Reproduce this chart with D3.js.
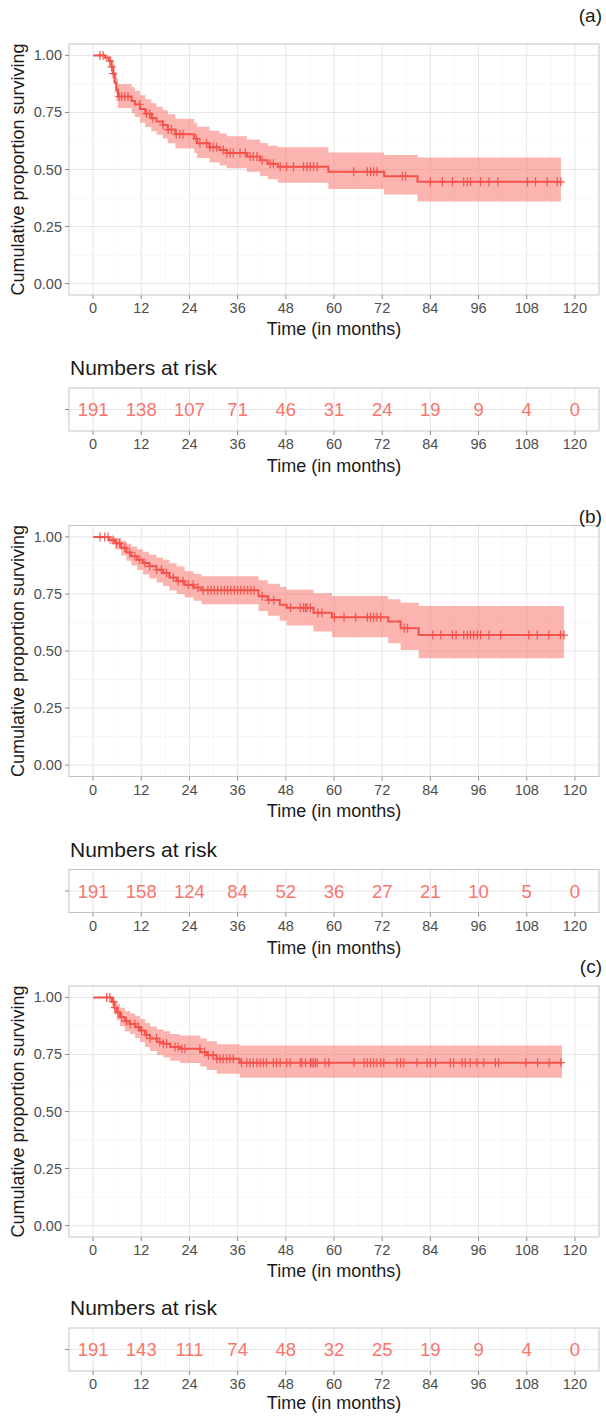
<!DOCTYPE html>
<html>
<head>
<meta charset="utf-8">
<script src="https://cdn.jsdelivr.net/npm/d3@7"></script>
<style>
  body { margin: 0; background: #fff; }
  svg { display: block; font-family: "Liberation Sans", Arial, sans-serif; }
  .grid-major { stroke: #e6e6e6; stroke-width: 1; }
  .grid-minor { stroke: #f2f2f2; stroke-width: 0.6; }
  .frame { fill: none; stroke: #c4c4c4; stroke-width: 1; }
  .tick-mark { stroke: #8a8a8a; stroke-width: 1; }
  .tick-label { fill: #4d4d4d; font-size: 14.5px; }
  .axis-title { fill: #1a1a1a; font-size: 18px; }
</style>
</head>
<body>
<svg id="chart" width="606" height="1416"></svg>
<script>
// month ticks shared by every panel and risk table
const timeTicks = [0, 12, 24, 36, 48, 60, 72, 84, 96, 108, 120];
const survTicks = [0, 0.25, 0.5, 0.75, 1];

// (a) step times, survival, lower / upper confidence limits
const timeA  = [0, 3.0, 4.0, 4.6, 5.0, 5.4, 5.8, 6.2, 9.6, 10.4, 11.7, 13.0, 14.5, 15.8, 17.4, 18.6, 20.5, 25.2, 25.9, 29.0, 31.5, 33.3, 38.3, 41.6, 43.5, 46.0, 58.6, 72.5, 80.8];
const survA  = [1, 0.99, 0.975, 0.95, 0.92, 0.88, 0.85, 0.82, 0.80, 0.785, 0.765, 0.745, 0.725, 0.71, 0.695, 0.675, 0.655, 0.635, 0.615, 0.598, 0.585, 0.572, 0.557, 0.54, 0.525, 0.512, 0.49, 0.47, 0.446];
const lowerA = [1, 0.975, 0.95, 0.92, 0.88, 0.835, 0.80, 0.77, 0.748, 0.73, 0.705, 0.686, 0.668, 0.652, 0.636, 0.615, 0.592, 0.572, 0.55, 0.532, 0.518, 0.505, 0.49, 0.472, 0.457, 0.442, 0.414, 0.39, 0.36];
const upperA = [1, 1, 0.995, 0.98, 0.96, 0.925, 0.90, 0.875, 0.86, 0.845, 0.825, 0.808, 0.79, 0.775, 0.76, 0.742, 0.722, 0.705, 0.687, 0.67, 0.658, 0.646, 0.632, 0.616, 0.604, 0.598, 0.575, 0.564, 0.553];
const endA = 116.5;
const censorA = [1.7, 2.5, 4.2, 4.6, 5.0, 6.5, 7.1, 7.9, 8.7, 11.6, 13.3, 14.1, 14.9, 17.4, 18.7, 19.5, 20.7, 21.6, 22.4, 25.7, 26.6, 28.3, 29.1, 29.9, 30.8, 32.4, 33.3, 34.1, 34.9, 36.6, 37.9, 39.1, 39.9, 40.8, 42.1, 44.1, 44.9, 46.6, 48.2, 49.9, 52.4, 53.3, 54.1, 54.9, 55.8, 64.9, 68.3, 69.1, 69.9, 70.7, 77.0, 77.8, 84.0, 87.0, 89.5, 92.3, 93.2, 94.0, 96.5, 98.6, 100.8, 108.2, 110.2, 113.1, 115.6, 116.5];
const riskA = [191, 138, 107, 71, 46, 31, 24, 19, 9, 4, 0];

// (b)
const timeB  = [0, 4.0, 5.5, 7.0, 8.3, 9.5, 11.0, 12.4, 14.0, 15.8, 17.4, 19.0, 20.8, 22.8, 25.0, 27.0, 41.2, 43.5, 46.5, 48.2, 54.9, 59.5, 73.5, 76.6, 81.1];
const survB  = [1, 0.987, 0.972, 0.952, 0.932, 0.915, 0.90, 0.886, 0.871, 0.856, 0.842, 0.822, 0.806, 0.79, 0.778, 0.766, 0.74, 0.723, 0.703, 0.69, 0.668, 0.648, 0.629, 0.60, 0.57];
const lowerB = [1, 0.968, 0.945, 0.918, 0.895, 0.875, 0.855, 0.835, 0.818, 0.80, 0.785, 0.765, 0.75, 0.735, 0.72, 0.705, 0.675, 0.655, 0.633, 0.612, 0.585, 0.56, 0.534, 0.504, 0.468];
const upperB = [1, 1, 0.995, 0.983, 0.97, 0.958, 0.946, 0.935, 0.922, 0.91, 0.90, 0.885, 0.87, 0.85, 0.838, 0.828, 0.81, 0.795, 0.78, 0.768, 0.753, 0.741, 0.727, 0.712, 0.697];
const endB = 117.3;
const censorB = [1.7, 2.9, 3.7, 5.0, 5.8, 6.6, 7.9, 9.1, 10.4, 11.6, 12.9, 14.1, 15.8, 17.0, 18.3, 20.0, 21.2, 22.4, 23.7, 24.9, 26.1, 27.4, 28.6, 29.4, 30.2, 31.0, 31.9, 32.7, 33.5, 34.3, 35.2, 36.0, 36.8, 37.6, 38.5, 39.3, 40.1, 42.1, 43.7, 45.0, 49.2, 51.6, 52.4, 52.9, 53.3, 54.1, 56.0, 57.0, 60.1, 62.5, 65.4, 68.3, 69.1, 69.9, 70.7, 71.6, 77.5, 78.3, 84.6, 86.6, 89.5, 90.4, 92.3, 93.2, 94.0, 94.8, 95.7, 96.5, 98.6, 101.5, 108.5, 110.6, 113.5, 116.4, 117.3];
const riskB = [191, 158, 124, 84, 52, 36, 27, 21, 10, 5, 0];

// (c)
const timeC  = [0, 4.7, 5.3, 5.9, 6.7, 7.9, 9.2, 10.5, 11.7, 12.9, 14.2, 15.9, 17.5, 19.2, 21.7, 26.7, 28.3, 30.8, 36.5];
const survC  = [1, 0.98, 0.955, 0.935, 0.914, 0.895, 0.884, 0.87, 0.855, 0.836, 0.82, 0.805, 0.797, 0.783, 0.775, 0.76, 0.746, 0.731, 0.714];
const lowerC = [1, 0.96, 0.925, 0.90, 0.875, 0.852, 0.84, 0.822, 0.805, 0.783, 0.765, 0.748, 0.738, 0.722, 0.713, 0.697, 0.682, 0.665, 0.648];
const upperC = [1, 1, 0.985, 0.97, 0.955, 0.94, 0.93, 0.918, 0.905, 0.888, 0.873, 0.86, 0.852, 0.84, 0.833, 0.82, 0.808, 0.795, 0.789];
const endC = 116.8;
const censorC = [3.4, 4.2, 5.1, 5.4, 6.2, 7.1, 8.3, 9.2, 10.4, 11.3, 12.1, 13.3, 14.2, 15.8, 16.6, 17.5, 18.3, 20.4, 21.2, 22.1, 22.9, 26.6, 27.8, 28.7, 29.9, 30.8, 31.6, 32.4, 33.3, 34.1, 34.9, 37.0, 38.3, 39.1, 39.9, 40.8, 41.6, 42.4, 43.2, 44.9, 45.7, 46.6, 48.2, 49.1, 51.6, 52.0, 52.9, 54.1, 54.5, 54.9, 55.4, 55.8, 57.8, 58.7, 65.0, 67.5, 68.3, 69.1, 69.9, 70.7, 71.6, 72.4, 75.7, 76.6, 77.4, 80.7, 83.2, 84.0, 85.3, 89.0, 89.8, 91.9, 92.7, 93.9, 95.6, 97.3, 100.2, 101.0, 107.8, 110.7, 113.6, 116.5];
const riskC = [191, 143, 111, 74, 48, 32, 25, 19, 9, 4, 0];

const lineColor = '#f5524c',
      bandColor = '#f8766d',
      riskColor = '#f8766d';

const svg = d3.select('#chart'),
      left = 69, right = 599, panelH = 251;

const x = d3.scaleLinear().domain([-6, 126]).range([left, right]);
const minorTimes = d3.range(6, 126, 12);

function stepRows(times, surv, lo, up, end) {
    const rows = times.map((t, i) => ({t: t, s: surv[i], lo: lo[i], up: up[i]}));
    const last = rows[rows.length - 1];
    rows.push({t: end, s: last.s, lo: last.lo, up: last.up});
    return rows;
}

function survAt(rows, t) {
    let s = rows[0].s;
    rows.forEach(r => { if (r.t <= t) s = r.s; });
    return s;
}

// tick marks + labels under a box, in their own group so calls don't collide
function xAxisLabels(parent, y0) {
    const g = parent.append('g');
    g.selectAll('line').data(timeTicks).join('line')
        .attr('class', 'tick-mark')
        .attr('x1', d => x(d)).attr('x2', d => x(d))
        .attr('y1', y0).attr('y2', y0 + 4);
    g.selectAll('text').data(timeTicks).join('text')
        .attr('class', 'tick-label')
        .attr('x', d => x(d)).attr('y', y0 + 18)
        .attr('text-anchor', 'middle')
        .text(d => d);
}

function vGrid(parent, y0, y1) {
    const g = parent.append('g');
    g.selectAll('line.min').data(minorTimes).join('line')
        .attr('class', 'min grid-minor')
        .attr('x1', d => x(d)).attr('x2', d => x(d))
        .attr('y1', y0).attr('y2', y1);
    g.selectAll('line.maj').data(timeTicks).join('line')
        .attr('class', 'maj grid-major')
        .attr('x1', d => x(d)).attr('x2', d => x(d))
        .attr('y1', y0).attr('y2', y1);
}

function panel(lay, times, surv, lo, up, end, censor, risk) {
    const top = lay.top;
    const g = svg.append('g');
    const y = d3.scaleLinear().domain([-0.05, 1.05]).range([top + panelH, top]);
    const rows = stepRows(times, surv, lo, up, end);

    // grid
    g.selectAll('line.hmin').data(d3.range(0.125, 1.05, 0.25)).join('line')
        .attr('class', 'hmin grid-minor')
        .attr('x1', left).attr('x2', right)
        .attr('y1', d => y(d)).attr('y2', d => y(d));
    vGrid(g, top, top + panelH);
    g.selectAll('line.hmaj').data(survTicks).join('line')
        .attr('class', 'hmaj grid-major')
        .attr('x1', left).attr('x2', right)
        .attr('y1', d => y(d)).attr('y2', d => y(d));

    // confidence band and curve
    g.append('path')
        .datum(rows)
        .attr('fill', bandColor).attr('fill-opacity', 0.55)
        .attr('d', d3.area().curve(d3.curveStepAfter)
            .x(d => x(d.t)).y0(d => y(d.lo)).y1(d => y(d.up)));
    g.append('path')
        .datum(rows)
        .attr('fill', 'none').attr('stroke', lineColor).attr('stroke-width', 2)
        .attr('d', d3.line().curve(d3.curveStepAfter).x(d => x(d.t)).y(d => y(d.s)));

    // censoring marks
    g.selectAll('path.cens').data(censor).join('path')
        .attr('class', 'cens')
        .attr('fill', 'none').attr('stroke', lineColor).attr('stroke-width', 1.2)
        .attr('d', t => {
            const cx = x(t), cy = y(survAt(rows, t));
            return `M${cx - 4},${cy}H${cx + 4}M${cx},${cy - 4.5}V${cy + 4.5}`;
        });

    g.append('rect').attr('class', 'frame')
        .attr('x', left).attr('y', top).attr('width', right - left).attr('height', panelH);

    // y axis
    g.selectAll('line.yt').data(survTicks).join('line')
        .attr('class', 'yt tick-mark')
        .attr('x1', left - 4).attr('x2', left)
        .attr('y1', d => y(d)).attr('y2', d => y(d));
    g.selectAll('text.yl').data(survTicks).join('text')
        .attr('class', 'yl tick-label')
        .attr('x', left - 7).attr('y', d => y(d) + 5)
        .attr('text-anchor', 'end')
        .text(d3.format('.2f'));
    g.append('text').attr('class', 'axis-title')
        .attr('transform', `translate(24,${top + panelH / 2}) rotate(-90)`)
        .attr('text-anchor', 'middle')
        .text('Cumulative proportion surviving');

    xAxisLabels(g, top + panelH);
    g.append('text').attr('class', 'axis-title')
        .attr('x', (left + right) / 2).attr('y', top + panelH + 40)
        .attr('text-anchor', 'middle')
        .text('Time (in months)');

    g.append('text')
        .attr('x', 602).attr('y', lay.tagY)
        .attr('text-anchor', 'end')
        .attr('font-size', 19).attr('fill', '#1a1a1a')
        .text(lay.tag);

    // numbers at risk table
    const tTop = top + lay.table, tH = 43, tMid = tTop + tH / 2;
    g.append('text')
        .attr('x', left + 1).attr('y', tTop - 13)
        .attr('font-size', 21).attr('fill', '#1a1a1a')
        .text('Numbers at risk');
    vGrid(g, tTop, tTop + tH);
    g.append('line').attr('class', 'grid-major')
        .attr('x1', left).attr('x2', right).attr('y1', tMid).attr('y2', tMid);
    g.append('line').attr('class', 'tick-mark')
        .attr('x1', left - 4).attr('x2', left).attr('y1', tMid).attr('y2', tMid);
    g.selectAll('text.risk').data(risk).join('text')
        .attr('class', 'risk')
        .attr('x', (d, i) => x(timeTicks[i])).attr('y', tMid + 6.5)
        .attr('text-anchor', 'middle')
        .attr('font-size', 18.5).attr('fill', riskColor)
        .text(d => d);
    g.append('rect').attr('class', 'frame')
        .attr('x', left).attr('y', tTop).attr('width', right - left).attr('height', tH);
    xAxisLabels(g, tTop + tH);
    g.append('text').attr('class', 'axis-title')
        .attr('x', (left + right) / 2).attr('y', tTop + tH + lay.titleGap)
        .attr('text-anchor', 'middle')
        .text('Time (in months)');
}

panel({top: 44, tag: '(a)', tagY: 22, table: 344, titleGap: 41},
      timeA, survA, lowerA, upperA, endA, censorA, riskA);
panel({top: 525.5, tag: '(b)', tagY: 523, table: 344, titleGap: 41},
      timeB, survB, lowerB, upperB, endB, censorB, riskB);
panel({top: 986, tag: '(c)', tagY: 973, table: 342, titleGap: 38},
      timeC, survC, lowerC, upperC, endC, censorC, riskC);
</script>
</body>
</html>
